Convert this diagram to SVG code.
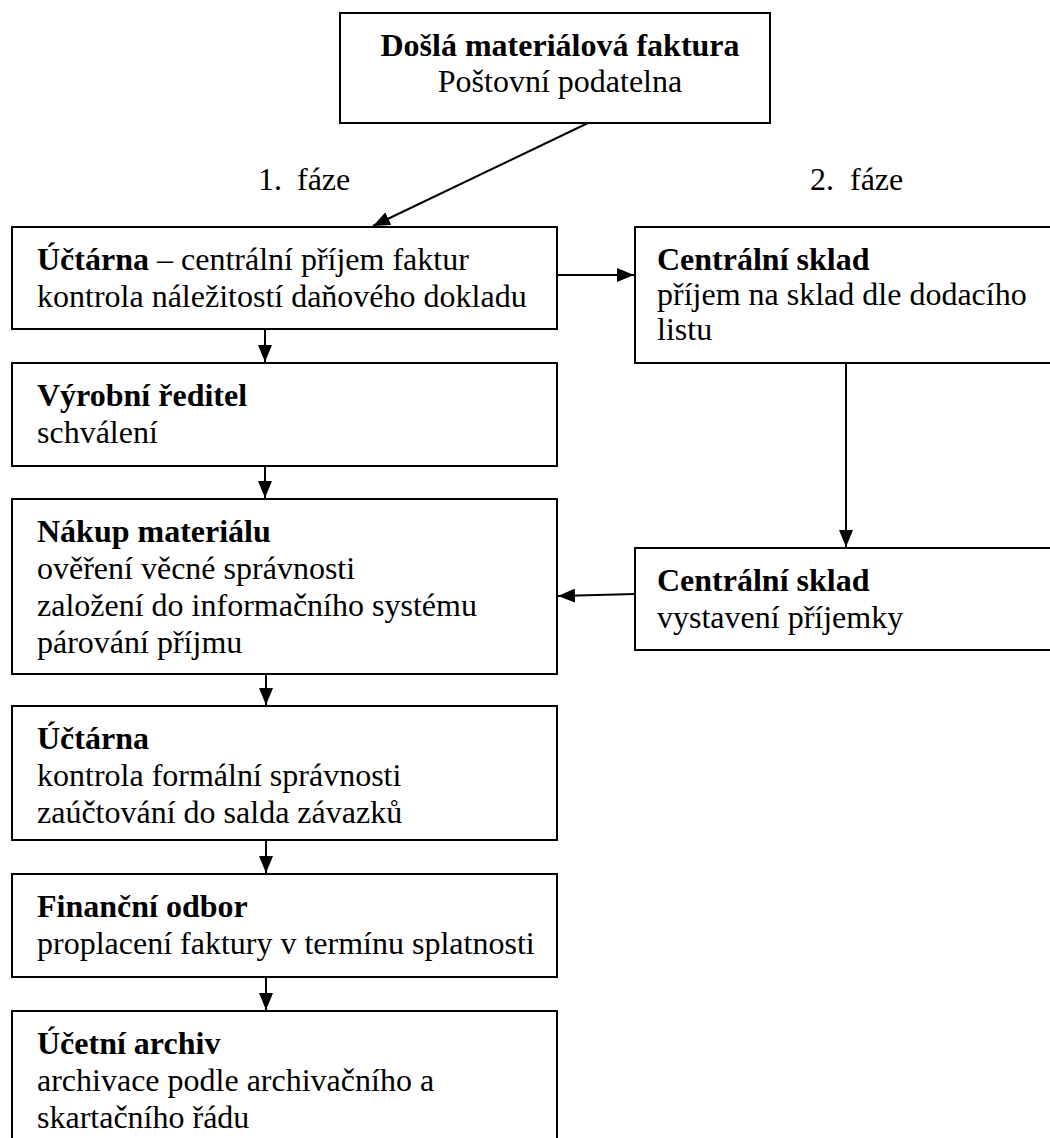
<svg xmlns="http://www.w3.org/2000/svg" width="1050" height="1138" viewBox="0 0 1050 1138">
  <style>
    .box { fill: #ffffff; stroke: #000000; stroke-width: 2; }
    .edge { fill: none; stroke: #000000; stroke-width: 2; }
    text { font-family: "Liberation Serif", "Times New Roman", serif; font-size: 32px; fill: #000000; }
    .b { font-weight: bold; }
  </style>
  <defs>
    <!-- solid triangular arrowhead, 17 px long and 14 px wide -->
    <marker id="arrow" viewBox="0 0 17 14" refX="17" refY="7" markerWidth="17" markerHeight="14" markerUnits="userSpaceOnUse" orient="auto">
      <path d="M0,0 L17,7 L0,14 Z" fill="#000000"/>
    </marker>
  </defs>

  <rect width="1050" height="1138" fill="#ffffff"/>

  <!-- connectors -->
  <g id="connectors">
    <line class="edge" x1="588" y1="123" x2="373" y2="226" marker-end="url(#arrow)"/>
    <line class="edge" x1="557" y1="275" x2="634" y2="275" marker-end="url(#arrow)"/>
    <line class="edge" x1="265" y1="329" x2="265" y2="362" marker-end="url(#arrow)"/>
    <line class="edge" x1="265" y1="466" x2="265" y2="498" marker-end="url(#arrow)"/>
    <line class="edge" x1="266" y1="674" x2="266" y2="705" marker-end="url(#arrow)"/>
    <line class="edge" x1="266" y1="840" x2="266" y2="873" marker-end="url(#arrow)"/>
    <line class="edge" x1="266" y1="977" x2="266" y2="1010" marker-end="url(#arrow)"/>
    <line class="edge" x1="846" y1="363" x2="846" y2="547" marker-end="url(#arrow)"/>
    <line class="edge" x1="635" y1="594" x2="558" y2="596" marker-end="url(#arrow)"/>
  </g>

  <!-- phase labels -->
  <g id="phase-labels">
    <text x="258" y="190">1.</text>
    <text x="297" y="190">fáze</text>
    <text x="810" y="190">2.</text>
    <text x="850" y="190">fáze</text>
  </g>

  <g id="node-invoice">
    <rect class="box" x="340" y="13" width="430" height="110"/>
    <text class="b" x="560" y="56" text-anchor="middle">Došlá materiálová faktura</text>
    <text x="560" y="92" text-anchor="middle">Poštovní podatelna</text>
  </g>

  <g id="node-uctarna-1">
    <rect class="box" x="12" y="227" width="545" height="102"/>
    <text x="37" y="270"><tspan class="b">Účtárna</tspan> – centrální příjem faktur</text>
    <text x="37" y="307">kontrola náležitostí daňového dokladu</text>
  </g>

  <g id="node-sklad-1">
    <rect class="box" x="635" y="227" width="430" height="136"/>
    <text class="b" x="657" y="270">Centrální sklad</text>
    <text x="657" y="305">příjem na sklad dle dodacího</text>
    <text x="657" y="340">listu</text>
  </g>

  <g id="node-reditel">
    <rect class="box" x="12" y="363" width="545" height="103"/>
    <text class="b" x="37" y="406">Výrobní ředitel</text>
    <text x="37" y="443">schválení</text>
  </g>

  <g id="node-nakup">
    <rect class="box" x="12" y="499" width="545" height="175"/>
    <text class="b" x="37" y="542">Nákup materiálu</text>
    <text x="37" y="579">ověření věcné správnosti</text>
    <text x="37" y="616">založení do informačního systému</text>
    <text x="37" y="653">párování příjmu</text>
  </g>

  <g id="node-sklad-2">
    <rect class="box" x="635" y="548" width="430" height="102"/>
    <text class="b" x="657" y="591">Centrální sklad</text>
    <text x="657" y="628">vystavení příjemky</text>
  </g>

  <g id="node-uctarna-2">
    <rect class="box" x="12" y="706" width="545" height="134"/>
    <text class="b" x="37" y="749">Účtárna</text>
    <text x="37" y="786">kontrola formální správnosti</text>
    <text x="37" y="823">zaúčtování do salda závazků</text>
  </g>

  <g id="node-financni">
    <rect class="box" x="12" y="874" width="545" height="103"/>
    <text class="b" x="37" y="917">Finanční odbor</text>
    <text x="37" y="954">proplacení faktury v termínu splatnosti</text>
  </g>

  <g id="node-archiv">
    <rect class="box" x="12" y="1011" width="545" height="160"/>
    <text class="b" x="37" y="1054">Účetní archiv</text>
    <text x="37" y="1091">archivace podle archivačního a</text>
    <text x="37" y="1128">skartačního řádu</text>
  </g>
</svg>
